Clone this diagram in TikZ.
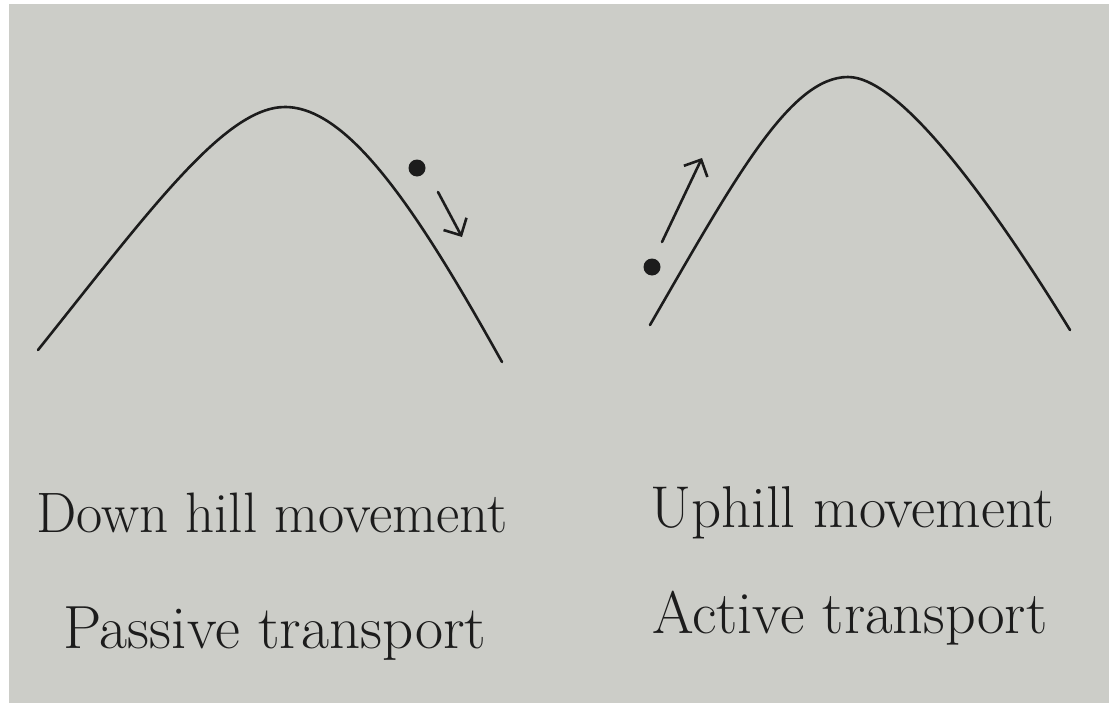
\documentclass[tikz,border=0pt]{standalone}
\definecolor{hpaper}{HTML}{CCCDC8}
\definecolor{hink}{HTML}{1C1C1C}
\usepackage{tikz}
\usetikzlibrary{arrows.meta}

\begin{document}
\begin{tikzpicture}[x=1pt, y=-1pt,
    hill/.style={hink, line width=2.6pt, line cap=round},
    ball/.style={circle, fill=hink, inner sep=0pt, minimum size=17pt},
    push/.style={hink, line width=2.6pt, line cap=round, -{Straight Barb[length=13pt, width=26pt, line width=2.6pt]}},
    caption/.style={text=hink, anchor=base west, inner sep=0pt, font=\fontsize{#1}{#1}\selectfont}]
    \useasboundingbox (0,0) rectangle (1109,704);
    \fill[white] (0,0) rectangle (1109,704);
    \fill[hpaper] (9,4) rectangle (1109,703);
    % downhill
    \draw[hill] (38,350) .. controls (150,210) and (225,107) .. (285,107)
                         .. controls (350,107) and (420,215) .. (502,362);
    \node[ball] (ballA) at (417,168) {};
    \coordinate (fromA) at (438,192);
    \coordinate (toA) at (462,237);
    \draw[push] (fromA) -- (toA);
    % uphill
    \draw[hill] (650,325) .. controls (735,178) and (790,77) .. (848,77)
                          .. controls (900,77) and (990,200) .. (1070,330);
    \node[ball] (ballB) at (652,267) {};
    \coordinate (fromB) at (662,242);
    \coordinate (toB) at (702,158);
    \draw[push] (fromB) -- (toB);
    % labels
    \node[caption=57] (downhill) at (36,532) {Down hill movement};
    \node[caption=61] (passive) at (63,648) {Passive transport};
    \node[caption=59] (uphill) at (650,527) {Uphill movement};
    \node[caption=60] (active) at (652,633) {Active transport};
\end{tikzpicture}
\end{document}
